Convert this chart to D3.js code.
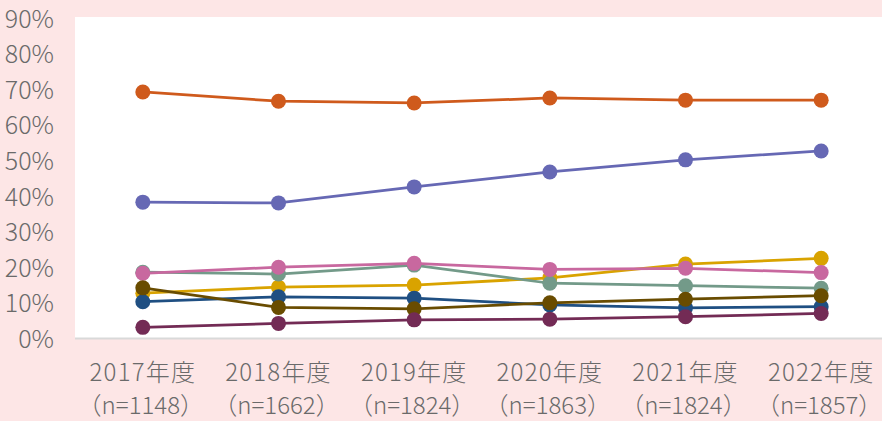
<!DOCTYPE html>
<html>
<head>
<meta charset="utf-8">
<script src="https://cdn.jsdelivr.net/npm/d3@7"></script>
<style>
  html, body { margin: 0; padding: 0; background: #fde6e6; }
  #chart { width: 882px; height: 421px; }
  .tick-label { fill: #6a6a6a; font-family: "Noto Sans CJK JP", "Noto Sans", sans-serif; font-weight: 300; }
</style>
</head>
<body>
<div id="chart"></div>
<script>
// ── data
const years   = ['2017年度', '2018年度', '2019年度', '2020年度', '2021年度', '2022年度'];
const samples = ['（n=1148）', '（n=1662）', '（n=1824）', '（n=1863）', '（n=1824）', '（n=1857）'];
const yTicks  = [0, 10, 20, 30, 40, 50, 60, 70, 80, 90];

// series, drawn bottom to top
const orange = [69.2, 66.6, 66.1, 67.5, 66.9, 66.9];
const violet = [38.2, 38.0, 42.5, 46.7, 50.1, 52.6];
const gold   = [12.6, 14.3, 14.9, 16.9, 20.8, 22.4];
const sage   = [18.5, 18.0, 20.5, 15.4, 14.7, 14.0];
const pink   = [18.2, 19.9, 21.0, 19.3, 19.6, 18.4];
const navy   = [10.2, 11.6, 11.2,  9.3,  8.5,  8.8];
const brown  = [14.1,  8.6,  8.2,  9.9, 10.9, 11.9];
const maroon = [ 3.0,  4.1,  5.1,  5.3,  6.0,  6.9];

const series = [
  { values: orange, color: '#cf5a1c' },
  { values: violet, color: '#6668b4' },
  { values: gold,   color: '#d9a300' },
  { values: sage,   color: '#739a89' },
  { values: pink,   color: '#c8689f' },
  { values: navy,   color: '#1f4f82' },
  { values: brown,  color: '#694c00' },
  { values: maroon, color: '#732b55' }
];

// ── layout
const W = 882, H = 421;
const plot = { left: 75, top: 17, right: 889, bottom: 338 };

const svg = d3.select('#chart')
  .append('svg')
    .attr('width', W)
    .attr('height', H);

svg.append('rect')
  .attr('width', W).attr('height', H)
  .attr('fill', '#fde6e6');

svg.append('rect')
  .attr('x', plot.left).attr('y', plot.top)
  .attr('width', plot.right - plot.left)
  .attr('height', plot.bottom - plot.top)
  .attr('fill', '#fff');

const x = d3.scaleBand().domain(years).range([plot.left, plot.right]);
const y = d3.scaleLinear().domain([0, 90]).range([338, 18]);
const cx = d => x(d) + x.bandwidth() / 2;

// ── Y axis labels
svg.append('g')
  .attr('transform', 'translate(54,0)')
  .call(d3.axisLeft(y).tickValues(yTicks).tickSize(0).tickPadding(0).tickFormat(d => d + '%'))
  .call(g => g.select('.domain').remove())
  .call(g => g.selectAll('text')
    .attr('class', 'tick-label')
    .attr('font-size', 25)
    .attr('dy', '0.37em'));

// baseline
svg.append('line')
  .attr('x1', plot.left).attr('x2', plot.right)
  .attr('y1', y(0) + 0.5).attr('y2', y(0) + 0.5)
  .attr('stroke', '#d9d9d9')
  .attr('stroke-width', 2);

// ── X axis labels (two lines)
const xg = svg.append('g').attr('class', 'x-labels');
xg.selectAll('.yr')
  .data(years)
  .join('text')
    .attr('class', 'tick-label yr')
    .attr('x', d => cx(d))
    .attr('y', 381)
    .attr('text-anchor', 'middle')
    .attr('font-size', 24)
    .attr('letter-spacing', 1.2)
    .text(d => d);

xg.selectAll('.n')
  .data(years)
  .join('text')
    .attr('class', 'tick-label n')
    .attr('x', d => cx(d) - 2)
    .attr('y', 414)
    .attr('text-anchor', 'middle')
    .attr('font-size', 24)
    .text((d, i) => samples[i]);

// ── lines and points
const line = d3.line()
  .x((v, i) => cx(years[i]))
  .y(v => y(v));

series.forEach(s => {
  const g = svg.append('g');
  g.append('path')
    .attr('d', line(s.values))
    .attr('fill', 'none')
    .attr('stroke', s.color)
    .attr('stroke-width', 2.75);
  g.selectAll('circle')
    .data(s.values)
    .join('circle')
      .attr('cx', (v, i) => cx(years[i]))
      .attr('cy', v => y(v))
      .attr('r', 7.5)
      .attr('fill', s.color);
});
</script>
</body>
</html>
